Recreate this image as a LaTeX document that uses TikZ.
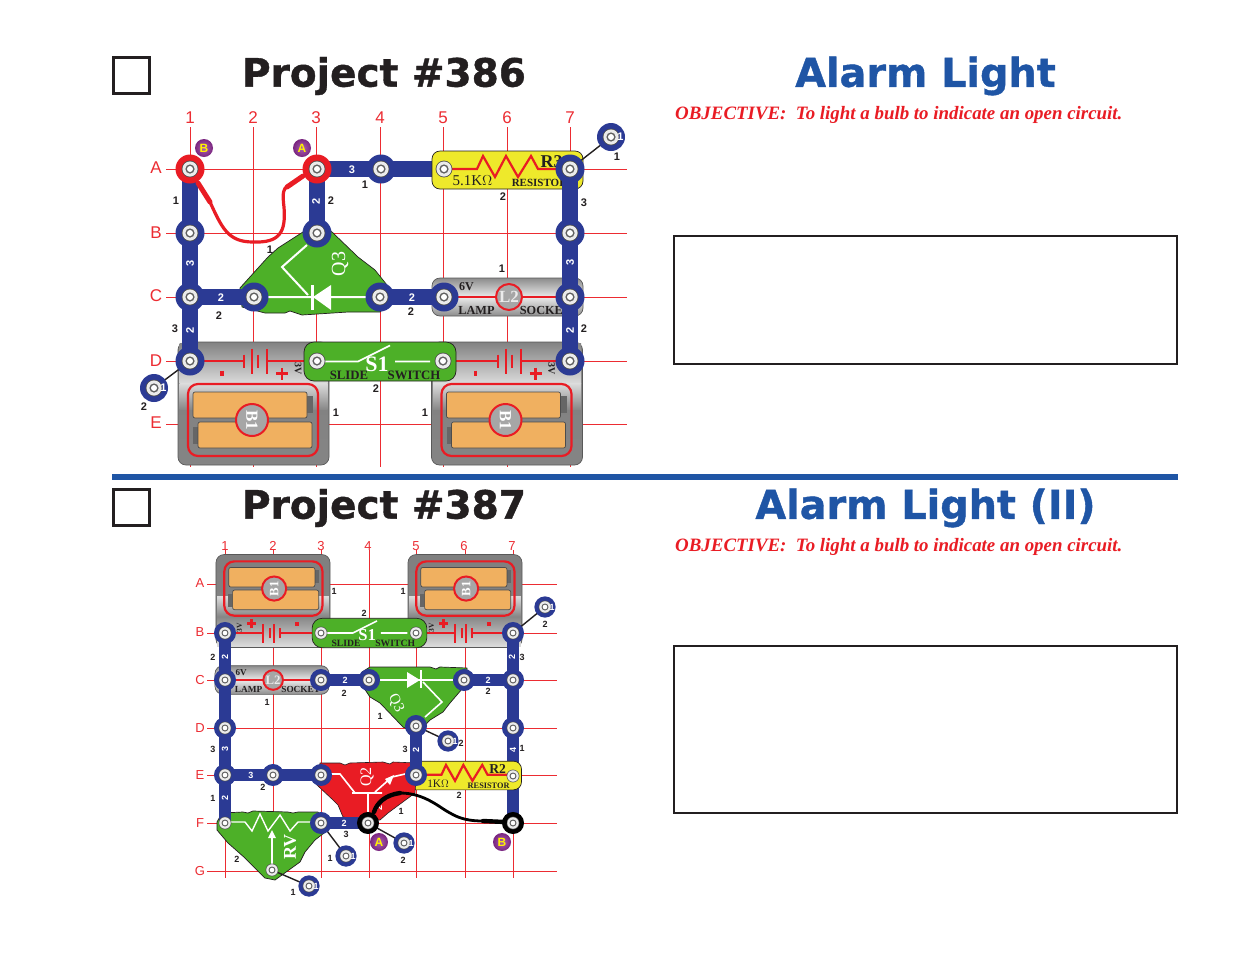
\documentclass[tikz,border=0pt]{standalone}
\usepackage{fontspec}
\setmainfont{Liberation Serif}
\newfontfamily\sansf{Liberation Sans}
\newfontfamily\titlef{DejaVu Sans Bold}[FakeBold=1]
\definecolor{wireblue}{HTML}{2B3A94}
\definecolor{gridred}{HTML}{EC2C32}
\definecolor{compred}{HTML}{E91C24}
\definecolor{titleblue}{HTML}{1F55A5}
\definecolor{ink}{HTML}{231F20}
\definecolor{chipgreen}{HTML}{4DB028}
\definecolor{cellor}{HTML}{F0B060}
\definecolor{yel}{HTML}{EEE92B}
\definecolor{purp}{HTML}{8F2C96}
\def\sc{1}
\def\lsz{11}
\def\axsz{17}
\newcount\nlab
\tikzset{
 x=1pt,y=-1pt,
 gridln/.style={draw=gridred,line width=.8pt},
 wire/.style={draw=wireblue,line width=16pt*\sc},
 lead/.style={draw=ink,line width=1.4pt},
 snapo/.style={circle,inner sep=0pt,minimum size=29pt*\sc},
 blab/.style={font=\sansf\bfseries\fontsize{\lsz}{12}\selectfont,text=ink,inner sep=0pt},
 wlab/.style={font=\sansf\bfseries\fontsize{\lsz}{12}\selectfont,text=white,inner sep=0pt},
 axlab/.style={font=\sansf\fontsize{\axsz}{18}\selectfont,text=gridred,inner sep=0pt},
 titlel/.style={font=\titlef\fontsize{39}{44}\selectfont,inner sep=0pt,anchor=center},
 titleb/.style={font=\titlef\fontsize{39.7}{44}\selectfont,inner sep=0pt,anchor=center,text=titleblue},
 objl/.style={font=\bfseries\itshape\fontsize{18.9}{20}\selectfont,text=compred,inner sep=0pt,anchor=west},
 chkbox/.style={draw=ink,line width=3pt,fill=white},
 txtbox/.style={draw=ink,line width=1.4pt,fill=white},
 chip/.style={fill=chipgreen,draw=ink,line width=.7pt,line join=round},
 chipw/.style={draw=white,line width=2pt},
 serw/.style={font=\bfseries\fontsize{17}{18}\selectfont,text=white,inner sep=0pt},
 smallb/.style={font=\bfseries\fontsize{10}{12}\selectfont,text=ink,inner sep=0pt},
 compl/.style={draw=compred,line width=2pt},
}
\newcommand\lb[3]{\global\advance\nlab by 1 \node[blab] (lab\the\nlab) at (#1,#2) {#3};}
\newcommand\wl[4][0]{\global\advance\nlab by 1 \node[wlab,rotate=#1] (lab\the\nlab) at (#2,#3) {#4};}
\newcommand\core[1]{%
 \fill[black!70] (#1) circle[radius=8.4pt*\sc];
 \fill[black!8] (#1) circle[radius=7.6pt*\sc];
 \fill[black!62] (#1) circle[radius=4.6pt*\sc];
 \fill[white] (#1) circle[radius=3pt*\sc];}
\newcommand\snap[2][wireblue]{\node[snapo,fill=#1] (s#2) at (#2) {};\core{#2}}
\newcommand\single[3]{\coordinate (#1) at (#2,#3);}
\newcommand\singlesnap[1]{\node[snapo,fill=wireblue,minimum size=28pt*\sc] (s#1) at (#1) {};\core{#1}
  \node[wlab] (w#1) at ([xshift=9.5pt*\sc]#1) {1};}
\newcommand\ballabel[3]{\node[circle,inner sep=0pt,minimum size=18pt,inner color=purp!75!white,outer color=purp!85!black,font=\sansf\bfseries\fontsize{12}{14}\selectfont,text=yellow] (ball#3) at (#1) {#2};}
\newcommand\battery[4]{% cx cy rot scale
\begin{scope}[shift={(#1,#2)},rotate=#3,scale=#4,transform shape]
 \shade[top color=black!50,bottom color=black!48,draw=black!65,line width=.7pt,rounded corners=8pt] (-75.5,-61.5) rectangle (75.5,61.5);
 \shade[top color=black!48,bottom color=black!14] (-74,-60) rectangle (74,-20);
 \shade[top color=black!14,bottom color=black!47] (-74,-20) rectangle (74,6);
 \draw[compl,rounded corners=10pt,line width=2.2pt] (-65.5,-19.5) rectangle (64.5,52.5);
 \fill[black!60] (53.5,-7.5) rectangle (59.5,9.5);
 \fill[black!60] (-60.5,23.5) rectangle (-55.5,40.5);
 \draw[fill=cellor,draw=black!70,rounded corners=2pt,line width=.7pt] (-60.5,-11.5) rectangle (53.5,14.5);
 \draw[fill=cellor,draw=black!70,rounded corners=2pt,line width=.7pt] (-55.5,18.5) rectangle (58.5,44.5);
 \draw[compl,fill=black!35] (-1.5,16.5) circle[radius=16];
 \node[serw,rotate=-90] at (-1.5,16.5) {B1};
 \draw[compl] (-63.5,-42.5) -- (-9.5,-42.5) (-9.5,-49) -- (-9.5,-36);
 \draw[compl] (-1.5,-55) -- (-1.5,-30) (4.5,-49) -- (4.5,-36) (13.5,-55) -- (13.5,-30);
 \draw[compl] (13.5,-42.5) -- (51.5,-42.5);
 \draw[compl,line width=3.5pt] (-31.5,-33) -- (-31.5,-28);
 \draw[compl,line width=2.8pt] (28.5,-36) -- (28.5,-24) (22.5,-30) -- (34.5,-30);
 \node[smallb,rotate=-90] at (44.5,-35) {3V};
\end{scope}}
\newcommand\switch[3]{% cx cy scale
\begin{scope}[shift={(#1,#2)},scale=#3,transform shape]
 \draw[chip,rounded corners=10pt] (-76,-19.5) rectangle (76,19.5);
 \draw[draw=white,line width=1.6pt] (-63,0) -- (-22,0) -- (10,-16) (15,0) -- (50,0);
 \node[serw,font=\bfseries\fontsize{22}{22}\selectfont] at (-3,3) {S1};
 \node[smallb,font=\bfseries\fontsize{12.8}{13}\selectfont] at (-31,13.5) {SLIDE};
 \node[smallb,font=\bfseries\fontsize{12.8}{13}\selectfont] at (34,13.5) {SWITCH};
\end{scope}}
\newcommand\lampsock[3]{%
\begin{scope}[shift={(#1,#2)},scale=#3,transform shape]
 \shade[top color=black!45,bottom color=black!45,middle color=black!8,draw=black!65,line width=.7pt,rounded corners=8pt] (-75.5,-19) rectangle (75.5,19);
 \draw[compl] (-63,0) -- (63,0);
 \draw[compl,fill=black!35] (1.5,0) circle[radius=13];
 \node[serw,text=black!8] at (1.5,0) {L2};
 \node[smallb,font=\bfseries\fontsize{12}{12}\selectfont] at (-41,-10) {6V};
 \node[smallb,font=\bfseries\fontsize{12.3}{12}\selectfont] at (-31,13) {LAMP};
 \node[smallb,font=\bfseries\fontsize{12.3}{12}\selectfont] at (38,13) {SOCKET};
\end{scope}}
\newcommand\resist[5]{% cx cy scale label value
\begin{scope}[shift={(#1,#2)},scale=#3,transform shape]
 \draw[fill=yel,draw=ink,line width=.7pt,rounded corners=8pt] (-75.5,-19) rectangle (75.5,19);
 \draw[compl,line width=2.2pt] (-55.5,-1) -- (-30.5,-1) -- (-24.5,-14) -- (-12.5,7) -- (-1.5,-14) -- (10.5,7) -- (23.5,-14) -- (30.5,-1) -- (60,-1);
 \node[smallb,font=\bfseries\fontsize{18}{18}\selectfont] at (44,-8) {#4};
 \node[smallb,font=\fontsize{15}{16}\selectfont] at (-35,11) {#5};
 \node[smallb,font=\bfseries\fontsize{11}{12}\selectfont] at (32,13) {RESISTOR};
\end{scope}}
\begin{document}
\begin{tikzpicture}
\useasboundingbox (0,0) rectangle (1235,954);
\fill[white] (0,0) rectangle (1235,954);
% ---------- frame of the page
\node[chkbox,minimum size=36pt,inner sep=0pt] (chk1) at (131.5,75.5) {};
\node[chkbox,minimum size=36pt,inner sep=0pt] (chk2) at (131.5,507.5) {};
\node[titlel,text=ink] (t1) at (384,76) {Project \#386};
\node[titlel,text=ink] (t2) at (384,508) {Project \#387};
\node[titleb] (n1) at (925.5,76) {Alarm Light};
\node[titleb] (n2) at (925.5,508) {Alarm Light (II)};
\node[objl] (o1) at (675,115) {OBJECTIVE:\ \ To light a bulb to indicate an open circuit.};
\node[objl] (o2) at (675,547) {OBJECTIVE:\ \ To light a bulb to indicate an open circuit.};
\fill[titleblue] (112,474) rectangle (1178,480);
\draw[txtbox] (674,236) rectangle (1177,364);
\draw[txtbox] (674,646) rectangle (1177,813);
% ---------- diagram 386
\foreach \x in {190,253,316,380,443,507,570} \draw[gridln] (\x,127) -- (\x,467);
\foreach \y in {169,233,297,361,424} \draw[gridln] (166,\y) -- (627,\y);
\foreach \t/\x in {1/190,2/253,3/316,4/380,5/443,6/507,7/570} \node[axlab] (c\t a) at (\x,118) {\t};
\foreach \t/\y in {A/168,B/233,C/296,D/361,E/423} \node[axlab] (r\t a) at (156,\y) {\t};
\coordinate (a1) at (190,169); \coordinate (b1) at (190,233); \coordinate (c1) at (190,297); \coordinate (d1) at (190,361);
\coordinate (c2) at (254,297);
\coordinate (a3) at (317,169); \coordinate (b3) at (317,233);
\coordinate (a4) at (381,169); \coordinate (c4) at (380,297);
\coordinate (a5) at (444,169); \coordinate (c5) at (444,297);
\coordinate (a7) at (570,169); \coordinate (b7) at (570,233); \coordinate (c7) at (570,297); \coordinate (d7) at (570,361);
\coordinate (d3) at (317,361); \coordinate (d5) at (443,361);
\single{x1}{154}{388} \single{x2}{611}{137}
\battery{253.5}{403.5}{0}{1}
\battery{507}{403.5}{0}{1}
\lampsock{507.5}{297}{1}
\draw[wire] (a3) -- (a5);
\resist{507.5}{170}{1}{R3}{5.1K$\Omega$}
\draw[chip] (317,223) -- (332,232) -- (358,257) -- (375,270) -- (387,285) -- (395,297) -- (380,312) -- (367,312) -- (348,312) -- (302,315) -- (290,311) -- (285,313) -- (265,313) -- (242,307) -- (240,288) -- (268,257) -- (278,248) -- cycle;
\draw[chipw] (307,245) -- (282,267) -- (308,295) (265,297) -- (368,297);
\fill[white] (313,297) -- (331,285) -- (331,310) -- cycle;
\draw[chipw,line width=3pt] (312,285) -- (312,310);
\node[serw,rotate=90,font=\fontsize{20}{20}\selectfont] (q3a) at (340,264) {Q3};
\switch{380}{361.5}{1}
\draw[lead] (x1) -- (d1);
\draw[lead] (x2) -- (a7);
\draw[wire] (a1) -- (d1);
\draw[wire] (c1) -- (c2);
\draw[wire] (a3) -- (b3);
\draw[wire] (c4) -- (c5);
\draw[wire] (a7) -- (d7);
\snap[compred]{a1} \snap{b1} \snap{c1} \snap{d1} \snap{c2}
\snap[compred]{a3} \snap{b3} \snap{a4} \snap{c4} \snap{c5}
\core{a5} \core{d3} \core{d5}
\snap{a7} \snap{b7} \snap{c7} \snap{d7}
\singlesnap{x1} \singlesnap{x2}
\draw[compred,line width=5pt,line cap=round] (198,183) -- (210,202);
\draw[compred,line width=3.2pt,line cap=round] (210,202) .. controls (222,228) and (228,242) .. (253,242) .. controls (280,243) and (286,232) .. (284,207) .. controls (282,192) and (284,188) .. (287,187);
\draw[compred,line width=5pt,line cap=round] (287,187) -- (303,176);
\coordinate (ballB) at (204,148); \coordinate (ballA) at (302,148);
\ballabel{ballB}{B}{b1} \ballabel{ballA}{A}{a1}
\wl{352}{170}{3} \lb{365}{185}{1} \lb{176}{201}{1} \wl[90]{190}{263}{3}
\wl[90]{316}{201}{2} \lb{331}{201}{2} \lb{270}{250}{1} \wl{221}{298}{2}
\lb{219}{316}{2} \lb{175}{329}{3} \wl[90]{190}{330}{2} \wl{412}{298}{2}
\lb{411}{312}{2} \lb{502}{269}{1} \lb{503}{197}{2} \lb{584}{203}{3}
\wl[90]{570}{262}{3} \wl[90]{570}{330}{2} \lb{584}{329}{2} \lb{617}{157}{1}
\lb{144}{407}{2} \lb{336}{413}{1} \lb{425}{413}{1} \lb{376}{389}{2}
% ---------- diagram 387
\def\sc{.76}
\def\lsz{9}
\def\axsz{13}
\foreach \x in {225,273,321,369,416,465,513} \draw[gridln] (\x,550) -- (\x,878);
\foreach \y in {584,633,680,728,775,823,871} \draw[gridln] (207,\y) -- (557,\y);
\foreach \t/\x in {1/225,2/273,3/321,4/368,5/416,6/464,7/512} \node[axlab] (c\t b) at (\x,546) {\t};
\foreach \t/\y in {A/583,B/632,C/680,D/728,E/775,F/823,G/871} \node[axlab] (r\t b) at (200,\y) {\t};
\coordinate (B1) at (225,633); \coordinate (C1) at (225,680); \coordinate (D1) at (225,728); \coordinate (E1) at (225,775);
\coordinate (E2) at (273,775); \coordinate (E3) at (321,775); \coordinate (C3) at (321,680); \coordinate (C4) at (369,680);
\coordinate (C6) at (464,680); \coordinate (C7) at (513,680); \coordinate (B7) at (513,633); \coordinate (D7) at (513,728);
\coordinate (E7) at (513,776); \coordinate (F7) at (513,823); \coordinate (D5) at (416,726); \coordinate (E5) at (416,775);
\coordinate (F1) at (225,823); \coordinate (F3) at (321,823); \coordinate (F4) at (368,823); \coordinate (G2) at (272,870);
\coordinate (B3) at (321,633); \coordinate (B5) at (416,633);
\single{y1}{545}{607} \single{y2}{448}{741} \single{y3}{346}{856} \single{y4}{404}{843} \single{y5}{309}{886}
\battery{273}{601}{180}{.755}
\battery{465}{601}{180}{.755}
\lampsock{272}{680}{.755}
\draw[wire] (B7) -- (F7);
\resist{464.5}{775.5}{.755}{R2}{1K$\Omega$}
% Q3
\draw[chip] (362,672) -- (370,667) -- (430,667) -- (436,669) -- (440,667) -- (467,668) -- (468,682) -- (450,703) -- (443,712) -- (430,720) -- (417,734) -- (403,727) -- (380,703) -- (370,697) -- (362,685) -- cycle;
\draw[chipw,line width=1.6pt] (375,680) -- (458,680) (423,682) -- (442,702) -- (425,717);
\fill[white] (420,680) -- (407,672) -- (407,688) -- cycle;
\draw[chipw] (421,670) -- (421,688);
\node[serw,rotate=-65,font=\fontsize{15}{16}\selectfont] (q3b) at (396,703) {Q3};
% Q2
\draw[fill=compred,draw=ink,line width=.6pt,line join=round] (320,763) -- (340,763) -- (345,765) -- (350,763) -- (383,762) -- (390,764) -- (393,762) -- (417,763) -- (415,793) -- (388,813) -- (380,820) -- (363,820) -- (343,817) -- (338,805) -- (333,800) -- (317,785) -- cycle;
\draw[chipw,line width=1.6pt] (330,774) -- (340,774) -- (355,793) (352,793) -- (382,793) (368,793) -- (368,812) (375,792) -- (392,777) -- (405,774);
\fill[white] (394,775) -- (385,779) -- (390,785) -- cycle;
\node[serw,rotate=90,font=\fontsize{16}{16}\selectfont] (q2b) at (367,777) {Q2};
% RV
\draw[chip] (217,822) -- (222,813) -- (243,812) -- (248,813) -- (253,811) -- (288,812) -- (293,813) -- (298,812) -- (318,812) -- (328,830) -- (315,840) -- (305,852) -- (300,862) -- (275,880) -- (265,878) -- (245,858) -- (228,843) -- (217,830) -- cycle;
\draw[chipw,line width=1.4pt] (228,822) -- (245,822) -- (252,831) -- (260,814) -- (268,831) -- (280,815) -- (290,831) -- (298,822) -- (313,822);
\draw[chipw,line width=1.6pt] (272,870) -- (272,836);
\fill[white] (272,830) -- (268,838) -- (276,838) -- cycle;
\node[serw,rotate=90,font=\bfseries\fontsize{18}{18}\selectfont] (rv) at (290,847) {RV};
\switch{369.5}{633}{.755}
\draw[lead] (y1) -- (B7);
\draw[lead] (y2) -- (D5);
\draw[lead] (y3) -- (F3);
\draw[lead] (y4) -- (F4);
\draw[lead] (y5) -- (G2);
\draw[wire] (B1) -- (F1);
\draw[wire] (E1) -- (E3);
\draw[wire] (C3) -- (C4);
\draw[wire] (C6) -- (C7);
\draw[wire] (D5) -- (E5);
\draw[wire] (F3) -- (F4);
\snap{B1} \snap{C1} \snap{D1} \snap{E1} \snap{E2} \snap{E3}
\snap{C3} \snap{C4} \snap{C6} \snap{C7} \snap{B7} \snap{D7}
\snap{D5} \snap{E5} \snap{F3}
\core{E7} \core{F1} \core{G2} \core{B3} \core{B5}
\snap[black]{F4} \snap[black]{F7}
\singlesnap{y1} \singlesnap{y2} \singlesnap{y3} \singlesnap{y4} \singlesnap{y5}
\wl[90]{379}{808}{2}
\draw[black,line width=4.4pt,line cap=round] (374,812) .. controls (377,803) and (385,795) .. (400,793);
\draw[black,line width=2.8pt,line cap=round] (400,793) .. controls (425,793) and (440,808) .. (450,813) .. controls (460,819) and (470,821) .. (483,821);
\draw[black,line width=4.4pt,line cap=round] (483,821) -- (505,822);
\coordinate (ballC) at (379,842); \coordinate (ballD) at (502,842);
\ballabel{ballC}{A}{a2} \ballabel{ballD}{B}{b2}
\lb{334}{591}{1} \lb{364}{613}{2} \lb{213}{657}{2} \wl[90]{225}{657}{2}
\wl{345}{680}{2} \lb{344}{693}{2} \lb{267}{702}{1} \lb{403}{591}{1}
\lb{522}{657}{3} \wl[90]{512}{657}{2} \wl{488}{680}{2} \lb{488}{691}{2}
\lb{545}{624}{2} \lb{380}{716}{1} \lb{213}{749}{3} \wl[90]{225}{749}{3}
\wl{251}{775}{3} \lb{263}{787}{2} \lb{213}{798}{1} \wl[90]{225}{798}{2}
\lb{237}{859}{2} \wl{344}{823}{2} \lb{346}{834}{3} \lb{330}{858}{1}
\lb{293}{892}{1} \lb{405}{749}{3} \wl[90]{416}{750}{2} \lb{461}{743}{2}
\lb{522}{748}{1} \wl[90]{513}{750}{4} \lb{459}{795}{2} \lb{401}{811}{1}
\lb{403}{860}{2}
\end{tikzpicture}
\end{document}
